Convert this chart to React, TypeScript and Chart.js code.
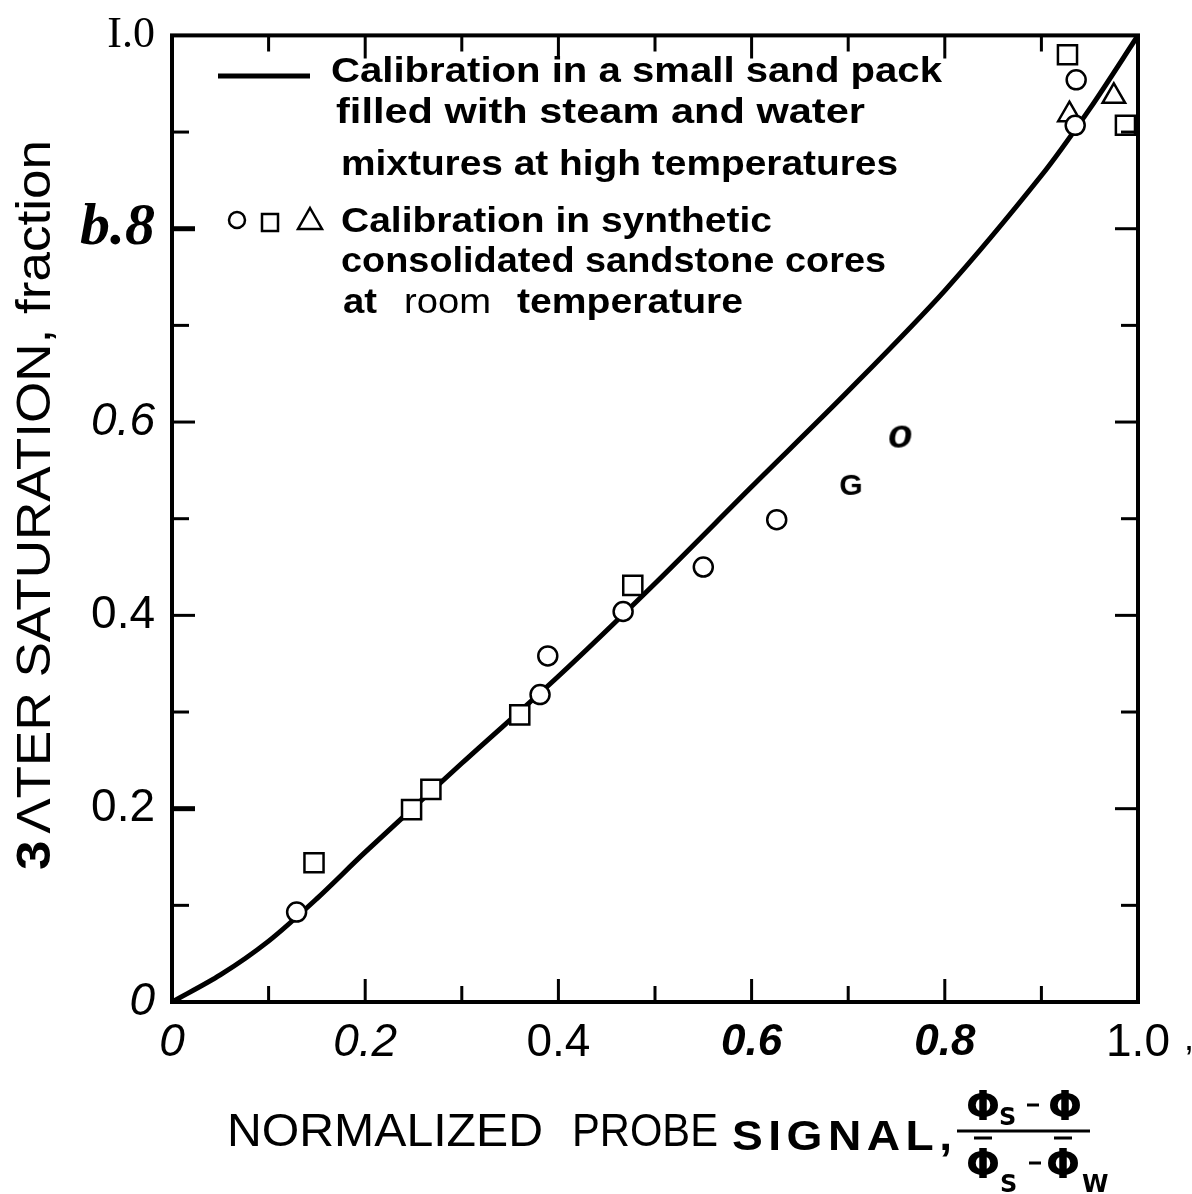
import React, { useEffect, useRef } from "react";
import { Chart, registerables } from "chart.js";

Chart.register(...registerables);

// ---- tick labels (as printed in the figure) ----
const xTickLabels = ["0", "0.2", "0.4", "0.6", "0.8", "1.0"];
const yTickLabels = ["0", "0.2", "0.4", "0.6", "b.8", "I.0"];

// ---- calibration curve (small sand pack) ----
const curveX = [0, 0.05, 0.1, 0.15, 0.2, 0.3, 0.4, 0.5, 0.6, 0.7, 0.8, 0.9, 0.95, 1.0];
const curveY = [0, 0.028, 0.063, 0.107, 0.155, 0.247, 0.337, 0.433, 0.533, 0.632, 0.736, 0.855, 0.924, 1.0];

// ---- synthetic consolidated sandstone cores ----
const circleX = [0.129, 0.381, 0.389, 0.467, 0.55, 0.626, 0.703, 0.754, 0.936, 0.935];
const circleY = [0.093, 0.318, 0.358, 0.404, 0.45, 0.499, 0.534, 0.586, 0.954, 0.907];
const circleGlyphs = ["", "", "", "", "", "", "G", "o", "", ""];

const squareX = [0.147, 0.248, 0.268, 0.36, 0.477, 0.927, 0.987];
const squareY = [0.144, 0.199, 0.22, 0.297, 0.431, 0.98, 0.907];

const triangleX = [0.929, 0.975];
const triangleY = [0.918, 0.937];

const legendLines1 = [
  "Calibration in a small sand pack",
  "filled with steam and water",
  "mixtures at high temperatures",
];
const legendLines2 = [
  "Calibration in synthetic",
  "consolidated sandstone cores",
  "at room temperature",
];

const yTitle = ["3", "ΛTER SATURATION, fraction"];
const xTitle = ["NORMALIZED", "PROBE", "SIGNAL,"];

const SANS = '"Liberation Sans", Arial, Helvetica, sans-serif';
const SERIF = '"Liberation Serif", "Times New Roman", serif';

function fitText(
  ctx: CanvasRenderingContext2D,
  text: string,
  x: number,
  y: number,
  targetW: number,
  font: string,
  spacing = 0
) {
  ctx.save();
  ctx.font = font;
  (ctx as any).letterSpacing = spacing + "px";
  const w = ctx.measureText(text).width - spacing;
  const s = targetW / w;
  ctx.translate(x, y);
  ctx.scale(s, 1);
  ctx.textAlign = "left";
  ctx.textBaseline = "alphabetic";
  ctx.fillStyle = "#000";
  ctx.fillText(text, 0, 0);
  ctx.restore();
}

export default function App() {
  const ref = useRef<HTMLCanvasElement>(null);

  useEffect(() => {
    const canvas = ref.current!;
    const mkGlyph = (txt: string, font: string) => {
      const c = document.createElement("canvas");
      c.width = 40;
      c.height = 40;
      const g = c.getContext("2d")!;
      g.font = font;
      g.fillStyle = "#000";
      g.textAlign = "center";
      g.textBaseline = "middle";
      g.fillText(txt, 20, 21);
      return c;
    };
    const glyphFonts: Record<string, string> = {
      G: `bold 30px ${SANS}`,
      o: `bold italic 40px ${SANS}`,
    };
    const circleStyles = circleGlyphs.map((g) =>
      g ? mkGlyph(g, glyphFonts[g]) : "circle"
    );

    const xFont = (k: number) => {
      if (k === 0 || k === 2) return { family: SANS, size: 46, style: "italic" as const, weight: "normal" as const };
      if (k === 6 || k === 8) return { family: SANS, size: 44, style: "italic" as const, weight: "bold" as const };
      return { family: SANS, size: 46, style: "normal" as const, weight: "normal" as const };
    };
    const yFont = (k: number) => {
      if (k === 10) return { family: SERIF, size: 44, style: "normal" as const, weight: "normal" as const };
      if (k === 8) return { family: SERIF, size: 60, style: "italic" as const, weight: "bold" as const };
      if (k === 0 || k === 6) return { family: SANS, size: 46, style: "italic" as const, weight: "normal" as const };
      return { family: SANS, size: 46, style: "normal" as const, weight: "normal" as const };
    };
    const tickK = (c: any) => (c && c.tick ? Math.round(c.tick.value * 10) : 4);

    const decor = {
      id: "decor",
      afterDraw(chart: any) {
        const ctx: CanvasRenderingContext2D = chart.ctx;
        const a = chart.chartArea;
        const xs = chart.scales.x;
        const ys = chart.scales.y;
        ctx.save();
        ctx.strokeStyle = "#000";
        ctx.fillStyle = "#000";
        ctx.lineCap = "butt";

        // frame
        ctx.lineWidth = 4;
        ctx.strokeRect(a.left, a.top, a.right - a.left, a.bottom - a.top);

        // inward ticks
        ctx.lineWidth = 3;
        xs.ticks.forEach((t: any) => {
          const k = Math.round(t.value * 10);
          if (k <= 0 || k >= 10) return;
          const px = xs.getPixelForValue(t.value);
          const len = k % 2 === 0 ? 23 : 16;
          ctx.beginPath();
          ctx.moveTo(px, a.bottom);
          ctx.lineTo(px, a.bottom - len);
          ctx.moveTo(px, a.top);
          ctx.lineTo(px, a.top + len);
          ctx.stroke();
        });
        ys.ticks.forEach((t: any) => {
          const k = Math.round(t.value * 10);
          if (k <= 0 || k >= 10) return;
          const py = ys.getPixelForValue(t.value);
          const len = k % 2 === 0 ? 23 : 17;
          ctx.lineWidth = k === 8 || k === 2 ? 5 : 3;
          ctx.beginPath();
          ctx.moveTo(a.left, py);
          ctx.lineTo(a.left + len, py);
          ctx.stroke();
          ctx.lineWidth = 3;
          ctx.beginPath();
          ctx.moveTo(a.right, py);
          ctx.lineTo(a.right - len, py);
          ctx.stroke();
        });

        // comma after the last x label
        ctx.font = `normal 36px ${SANS}`;
        ctx.textAlign = "left";
        ctx.textBaseline = "alphabetic";
        ctx.fillText(",", xs.getPixelForValue(1) + 46, a.bottom + 48);

        // legend: line sample
        ctx.lineWidth = 5;
        ctx.beginPath();
        ctx.moveTo(218, 76);
        ctx.lineTo(310, 76);
        ctx.stroke();
        const lb = `bold 35px ${SANS}`;
        fitText(ctx, legendLines1[0], 331, 82, 611, lb);
        fitText(ctx, legendLines1[1], 336, 123, 529, lb);
        fitText(ctx, legendLines1[2], 341, 175, 557, lb);

        // legend: symbols
        ctx.lineWidth = 2.5;
        ctx.beginPath();
        ctx.arc(237, 220, 8, 0, Math.PI * 2);
        ctx.stroke();
        ctx.strokeRect(262, 214, 16, 17);
        ctx.beginPath();
        ctx.moveTo(310, 208);
        ctx.lineTo(322, 229);
        ctx.lineTo(298, 229);
        ctx.closePath();
        ctx.stroke();
        fitText(ctx, legendLines2[0], 341, 232, 431, lb);
        fitText(ctx, legendLines2[1], 341, 272, 545, lb);
        const parts = legendLines2[2].split(" ");
        fitText(ctx, parts[0], 343, 313, 34, lb);
        fitText(ctx, parts[1], 404, 313, 87, `normal 35px ${SANS}`);
        fitText(ctx, parts[2], 517, 313, 226, lb);

        // y title (rotated)
        ctx.save();
        ctx.translate(50, 870);
        ctx.rotate(-Math.PI / 2);
        const f1 = `bold 48px ${SANS}`;
        const f2 = `normal 48px ${SANS}`;
        ctx.font = f1;
        const w1 = ctx.measureText(yTitle[0]).width;
        ctx.font = f2;
        const w2 = ctx.measureText(yTitle[1]).width;
        const s = 730 / (w1 + w2 + 6);
        ctx.scale(s, 1);
        ctx.font = f1;
        ctx.fillText(yTitle[0], 0, 0);
        ctx.font = f2;
        ctx.fillText(yTitle[1], w1 + 6, 0);
        ctx.restore();

        // x title
        const xf = `normal 46px ${SANS}`;
        fitText(ctx, xTitle[0], 227, 1146, 316, xf);
        fitText(ctx, xTitle[1], 572, 1146, 146, xf);
        fitText(ctx, xTitle[2], 732, 1150, 220, `bold 42px ${SANS}`, 5);

        // fraction
        const phiF = `bold 40px "DejaVu Sans", ${SANS}`;
        const subF = `bold 24px "DejaVu Sans", ${SANS}`;
        ctx.font = phiF;
        ctx.textAlign = "center";
        ctx.fillText("Φ", 983, 1120);
        ctx.fillText("Φ", 1065, 1120);
        ctx.fillText("Φ", 983, 1178);
        ctx.fillText("Φ", 1063, 1178);
        ctx.font = subF;
        ctx.textAlign = "left";
        ctx.fillText("S", 999, 1125);
        ctx.fillText("S", 1000, 1192);
        ctx.fillText("W", 1082, 1192);
        ctx.lineWidth = 3;
        ctx.beginPath();
        ctx.moveTo(957, 1131);
        ctx.lineTo(1090, 1131);
        ctx.moveTo(1027, 1105);
        ctx.lineTo(1039, 1105);
        ctx.moveTo(1029, 1163);
        ctx.lineTo(1041, 1163);
        ctx.moveTo(974, 1138);
        ctx.lineTo(992, 1138);
        ctx.moveTo(1054, 1138);
        ctx.lineTo(1072, 1138);
        ctx.stroke();

        ctx.restore();
      },
    };

    const chart = new Chart(canvas, {
      type: "scatter",
      data: {
        datasets: [
          {
            label: "circles",
            data: circleX.map((x, i) => ({ x, y: circleY[i] })),
            pointStyle: circleStyles as any,
            pointRadius: 9.5,
            pointBorderWidth: 2.5,
            pointBorderColor: "#000",
            pointBackgroundColor: "#fff",
            showLine: false,
            order: 1,
          },
          {
            label: "squares",
            data: squareX.map((x, i) => ({ x, y: squareY[i] })),
            pointStyle: "rect",
            pointRadius: 13.5,
            pointBorderWidth: 2.5,
            pointBorderColor: "#000",
            pointBackgroundColor: "#fff",
            showLine: false,
            order: 1,
          },
          {
            label: "triangles",
            data: triangleX.map((x, i) => ({ x, y: triangleY[i] })),
            pointStyle: "triangle",
            pointRadius: 13,
            pointBorderWidth: 2.5,
            pointBorderColor: "#000",
            pointBackgroundColor: "rgba(255,255,255,0)",
            showLine: false,
            order: 1,
          },
          {
            label: "curve",
            type: "line",
            data: curveX.map((x, i) => ({ x, y: curveY[i] })),
            borderColor: "#000",
            borderWidth: 5,
            pointRadius: 0,
            tension: 0.3,
            fill: false,
            order: 10,
          } as any,
        ],
      },
      options: {
        responsive: false,
        animation: false,
        layout: { padding: { left: 0, top: 30, right: 54, bottom: 0 } },
        plugins: {
          legend: { display: false },
          tooltip: { enabled: false },
          title: { display: false },
        },
        scales: {
          x: {
            type: "linear",
            min: 0,
            max: 1,
            grid: { display: false },
            border: { display: false },
            afterFit: (scale: any) => {
              scale.height = 192;
            },
            ticks: {
              stepSize: 0.1,
              autoSkip: false,
              maxRotation: 0,
              padding: 6,
              color: "#000",
              font: (c: any) => xFont(tickK(c)),
              callback: (v: any) => {
                const k = Math.round(Number(v) * 10);
                return k % 2 === 0 ? xTickLabels[k / 2] : "";
              },
            },
          },
          y: {
            type: "linear",
            min: 0,
            max: 1,
            grid: { display: false },
            border: { display: false },
            afterFit: (scale: any) => {
              scale.width = 172;
            },
            ticks: {
              stepSize: 0.1,
              autoSkip: false,
              padding: 9,
              color: "#000",
              font: (c: any) => yFont(tickK(c)),
              callback: (v: any) => {
                const k = Math.round(Number(v) * 10);
                return k % 2 === 0 ? yTickLabels[k / 2] : "";
              },
            },
          },
        },
      },
      plugins: [decor],
    });
    return () => chart.destroy();
  }, []);

  return (
    <div style={{ position: "fixed", left: 0, top: 0, width: 1192, height: 1194, background: "#fff" }}>
      <canvas ref={ref} width={1192} height={1194} style={{ display: "block" }} />
    </div>
  );
}
